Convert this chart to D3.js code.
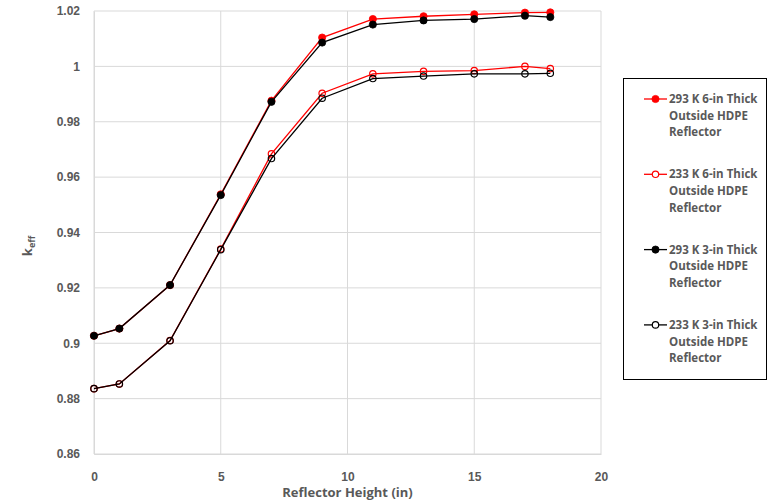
<!DOCTYPE html>
<html>
<head>
<meta charset="utf-8">
<script src="https://cdn.jsdelivr.net/npm/d3@7"></script>
<style>
  body { margin: 0; background: #fff; }
  svg { font-family: "Open Sans", "Liberation Sans", sans-serif; }
</style>
</head>
<body>
<svg id="chart" width="768" height="504"></svg>
<script>
// reflector heights (in)
const heights = [0, 1, 3, 5, 7, 9, 11, 13, 15, 17, 18];

// keff values
const k293Thick6 = [0.9027, 0.9053, 0.9210, 0.9538, 0.9876, 1.0104, 1.0171, 1.0181, 1.0188, 1.0194, 1.0195];
const k233Thick6 = [0.8836, 0.8853, 0.9010, 0.9340, 0.9684, 0.9903, 0.9973, 0.9982, 0.9985, 1.0000, 0.9992];
const k293Thick3 = [0.9027, 0.9053, 0.9210, 0.9535, 0.9872, 1.0086, 1.0151, 1.0166, 1.0171, 1.0183, 1.0178];
const k233Thick3 = [0.8836, 0.8853, 0.9009, 0.9338, 0.9667, 0.9885, 0.9956, 0.9965, 0.9973, 0.9973, 0.9975];

const seriesNames = [
  ["293 K 6-in Thick", "Outside HDPE", "Reflector"],
  ["233 K 6-in Thick", "Outside HDPE", "Reflector"],
  ["293 K 3-in Thick", "Outside HDPE", "Reflector"],
  ["233 K 3-in Thick", "Outside HDPE", "Reflector"]
];
const seriesValues = [k293Thick6, k233Thick6, k293Thick3, k233Thick3];
const seriesColors = ["#ff0000", "#ff0000", "#000000", "#000000"];
const seriesFilled = [true, false, true, false];

const xTicks = [0, 5, 10, 15, 20];
const yTicks = [0.86, 0.88, 0.9, 0.92, 0.94, 0.96, 0.98, 1, 1.02];

const svg = d3.select("#chart");
const margin = { left: 94, top: 11, right: 601, bottom: 454 };

const x = d3.scaleLinear().domain([0, 20]).range([margin.left, margin.right]);
const y = d3.scaleLinear().domain([0.86, 1.02]).range([margin.bottom, margin.top]);

const textColor = "#595959";
const gridColor = "#d9d9d9";

// gridlines
svg.append("g")
  .selectAll("line")
  .data(yTicks)
  .join("line")
  .attr("x1", margin.left).attr("x2", margin.right)
  .attr("y1", d => y(d)).attr("y2", d => y(d))
  .attr("stroke", gridColor).attr("stroke-width", 1);

svg.append("g")
  .selectAll("line")
  .data(xTicks)
  .join("line")
  .attr("x1", d => x(d)).attr("x2", d => x(d))
  .attr("y1", margin.top).attr("y2", margin.bottom)
  .attr("stroke", gridColor).attr("stroke-width", 1);

// axes (labels only)
const xAxis = svg.append("g")
  .attr("transform", `translate(0,${margin.bottom})`)
  .call(d3.axisBottom(x).tickValues(xTicks).tickSize(0).tickPadding(18).tickFormat(d3.format("d")));
xAxis.select(".domain").attr("stroke", gridColor);

const yAxis = svg.append("g")
  .attr("transform", `translate(${margin.left},0)`)
  .call(d3.axisLeft(y).tickValues(yTicks).tickSize(0).tickPadding(14).tickFormat(d => d3.format("")(+d.toFixed(2))));
yAxis.select(".domain").attr("stroke", gridColor);

svg.selectAll(".tick text")
  .attr("fill", textColor)
  .attr("font-size", 12)
  .attr("font-weight", "bold");

// axis titles
svg.append("text")
  .attr("x", (margin.left + margin.right) / 2)
  .attr("y", 497)
  .attr("text-anchor", "middle")
  .attr("fill", textColor)
  .attr("font-size", 13)
  .attr("font-weight", "bold")
  .text("Reflector Height (in)");

const yTitle = svg.append("text")
  .attr("transform", "translate(32,246) rotate(-90)")
  .attr("text-anchor", "middle")
  .attr("fill", textColor)
  .attr("font-size", 13)
  .attr("font-weight", "bold");
yTitle.append("tspan").text("k");
yTitle.append("tspan").attr("font-size", 9).attr("dy", 3).text("eff");

// series
const line = d3.line().x((d, i) => x(heights[i])).y(d => y(d));

seriesValues.forEach((vals, s) => {
  const g = svg.append("g");
  g.append("path")
    .datum(vals)
    .attr("d", line)
    .attr("fill", "none")
    .attr("stroke", seriesColors[s])
    .attr("stroke-width", 1.3);
  g.selectAll("circle")
    .data(vals)
    .join("circle")
    .attr("cx", (d, i) => x(heights[i]))
    .attr("cy", d => y(d))
    .attr("r", seriesFilled[s] ? 3.6 : 3.2)
    .attr("fill", seriesFilled[s] ? seriesColors[s] : "none")
    .attr("stroke", seriesColors[s])
    .attr("stroke-width", seriesFilled[s] ? 0.8 : 1.2);
});

// legend
const legend = svg.append("g");
legend.append("rect")
  .attr("x", 623.5).attr("y", 78.5)
  .attr("width", 143).attr("height", 301)
  .attr("fill", "#fff")
  .attr("stroke", "#000").attr("stroke-width", 1);

seriesNames.forEach((lines, s) => {
  const cy = 99 + s * 75.3;
  legend.append("line")
    .attr("x1", 644).attr("x2", 667)
    .attr("y1", cy).attr("y2", cy)
    .attr("stroke", seriesColors[s]).attr("stroke-width", 1.3);
  legend.append("circle")
    .attr("cx", 655.5).attr("cy", cy)
    .attr("r", seriesFilled[s] ? 3.6 : 3.2)
    .attr("fill", seriesFilled[s] ? seriesColors[s] : "#fff")
    .attr("stroke", seriesColors[s])
    .attr("stroke-width", seriesFilled[s] ? 0.8 : 1.2);
  const t = legend.append("text")
    .attr("x", 669)
    .attr("y", cy + 4)
    .attr("fill", textColor)
    .attr("font-size", 11.5)
    .attr("font-weight", "bold");
  lines.forEach((ln, j) => {
    t.append("tspan").attr("x", 669).attr("dy", j === 0 ? 0 : 16.7).text(ln);
  });
});
</script>
</body>
</html>
